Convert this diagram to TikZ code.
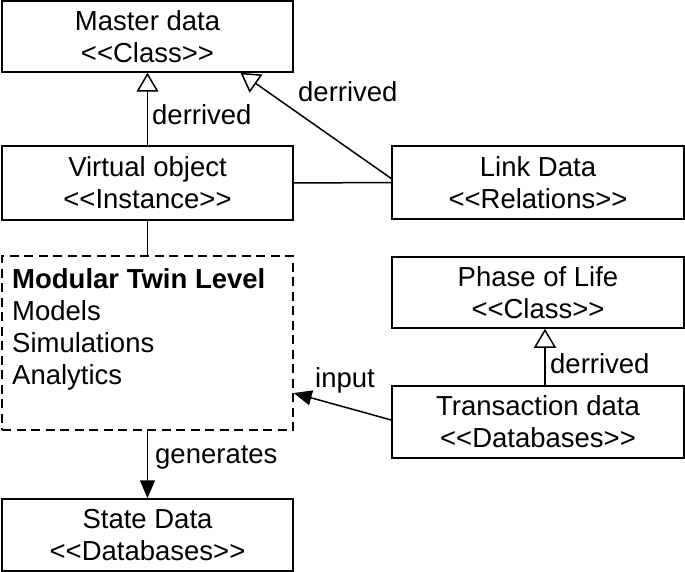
\documentclass[tikz,border=0pt]{standalone}
\usepackage{fontspec}
\setmainfont{Liberation Sans}[Ligatures=TeXOff]
\usetikzlibrary{arrows.meta}
\begin{document}
\begin{tikzpicture}[x=1pt,y=-1pt,
  every node/.style={font=\fontsize{27.5}{32}\selectfont},
  umlbox/.style={draw,line width=1.5pt,rectangle,inner sep=0pt,align=center},
  dashbox/.style={draw,line width=1.5pt,rectangle,inner sep=0pt,dash pattern=on 9pt off 5.5pt},
  line/.style={line width=1.5pt},
  gen/.style={line width=1.5pt,-{Triangle[open,length=19pt,width=22pt]}},
  flow/.style={line width=1.5pt,-{Triangle[length=18pt,width=15pt]}},
  lbl/.style={inner sep=0pt,anchor=base west}
]
\useasboundingbox (0,0) rectangle (685,572);
\node[umlbox,minimum width=291pt,minimum height=71pt] (master) at (147.5,36.5) {Master data\\<<Class>>};
\node[umlbox,minimum width=291pt,minimum height=74pt] (virtual) at (147.5,183) {Virtual object\\<<Instance>>};
\node[umlbox,minimum width=292pt,minimum height=73pt] (link) at (538,182.5) {Link Data\\<<Relations>>};
\node[dashbox,minimum width=291pt,minimum height=174pt] (mtw) at (147.5,343) {};
\node[inner sep=0pt,align=left,anchor=north west] (mtwtext) at (12,268) {\textbf{Modular Twin Level}\\Models\\Simulations\\Analytics};
\node[umlbox,minimum width=292pt,minimum height=71pt] (phase) at (538,292.5) {Phase of Life\\<<Class>>};
\node[umlbox,minimum width=292pt,minimum height=72pt] (trans) at (538,422) {Transaction data\\<<Databases>>};
\node[umlbox,minimum width=291pt,minimum height=72pt] (state) at (147.5,535) {State Data\\<<Databases>>};

\draw[gen] (virtual.north) -- (master.south);
\draw[gen] ([yshift=4pt]link.west) -- ([xshift=93pt]master.south);
\draw[line] (virtual.east) -- (link.west);
\draw[line] (virtual.south) -- (mtw.north);
\draw[flow] (mtw.south) -- (state.north);
\draw[gen] ([xshift=7pt]trans.north) -- ([xshift=7pt]phase.south);
\draw[flow] ([yshift=2pt]trans.west) -- ([yshift=-50pt]mtw.east);

\node[lbl] (l1) at (152,125) {derrived};
\node[lbl] (l2) at (298,102) {derrived};
\node[lbl] (l3) at (550,373) {derrived};
\node[lbl] (l4) at (315,387) {input};
\node[lbl] (l5) at (155,463) {generates};
\end{tikzpicture}
\end{document}
